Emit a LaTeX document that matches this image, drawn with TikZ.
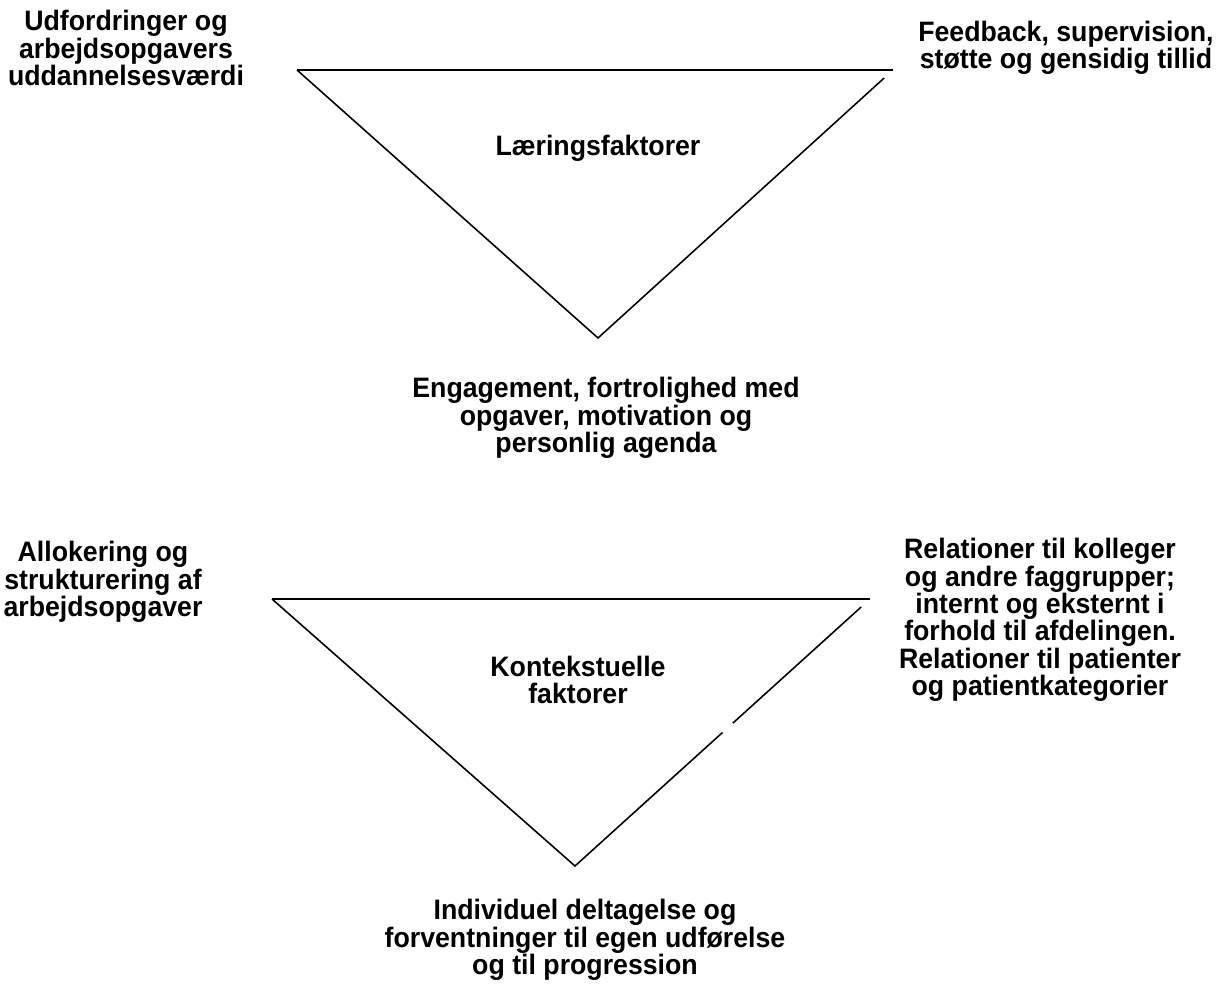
\documentclass[tikz,border=0pt]{standalone}
\usepackage{fontspec}
\setmainfont{Liberation Sans}[FakeStretch=0.95]
\usetikzlibrary{positioning,calc}

\begin{document}
\begin{tikzpicture}[x=0.02cm,y=-0.02cm,
  lbl/.style={font=\bfseries\fontsize{16}{15.6}\selectfont,align=center,inner sep=0pt},
  edge/.style={line width=0.9pt,black}]
\useasboundingbox (0,0) rectangle (1221,1003);
% upper triangle
\coordinate (ul) at (297,70);
\coordinate (ur) at (893,70);
\coordinate (ut) at (598,338);
\draw[edge,line width=1.1pt] (ur) -- (ul);
\draw[edge] (ul) -- (ut) -- ($(ut)!0.97!(ur)$);
\node[lbl] (lf) at (598,148) {Læringsfaktorer};
\node[lbl] (udf) at (126,48) {Udfordringer og\\arbejdsopgavers\\uddannelsesværdi};
\node[lbl] (feed) at (1066,48) {Feedback, supervision,\\støtte og gensidig tillid};
\node[lbl] (eng) at (606,418) {Engagement, fortrolighed med\\opgaver, motivation og\\personlig agenda};
% lower triangle
\coordinate (ll) at (272,599);
\coordinate (lr) at (870,599);
\coordinate (lt) at (575,866);
\draw[edge,line width=1.1pt] (lr) -- (ll);
\draw[edge] (ll) -- (lt) -- ($(lt)!0.50!(lr)$);
\draw[edge] ($(lt)!0.535!(lr)$) -- ($(lt)!0.97!(lr)$);
\node[lbl] (kf) at (578,680) {Kontekstuelle\\faktorer};
\node[lbl] (allo) at (103,582) {Allokering og\\strukturering af\\arbejdsopgaver};
\node[lbl] (rel) at (1040,620) {Relationer til kolleger\\og andre faggrupper;\\internt og eksternt i\\forhold til afdelingen.\\Relationer til patienter\\og patientkategorier};
\node[lbl] (ind) at (585,940) {Individuel deltagelse og\\forventninger til egen udførelse\\og til progression};
\end{tikzpicture}
\end{document}
